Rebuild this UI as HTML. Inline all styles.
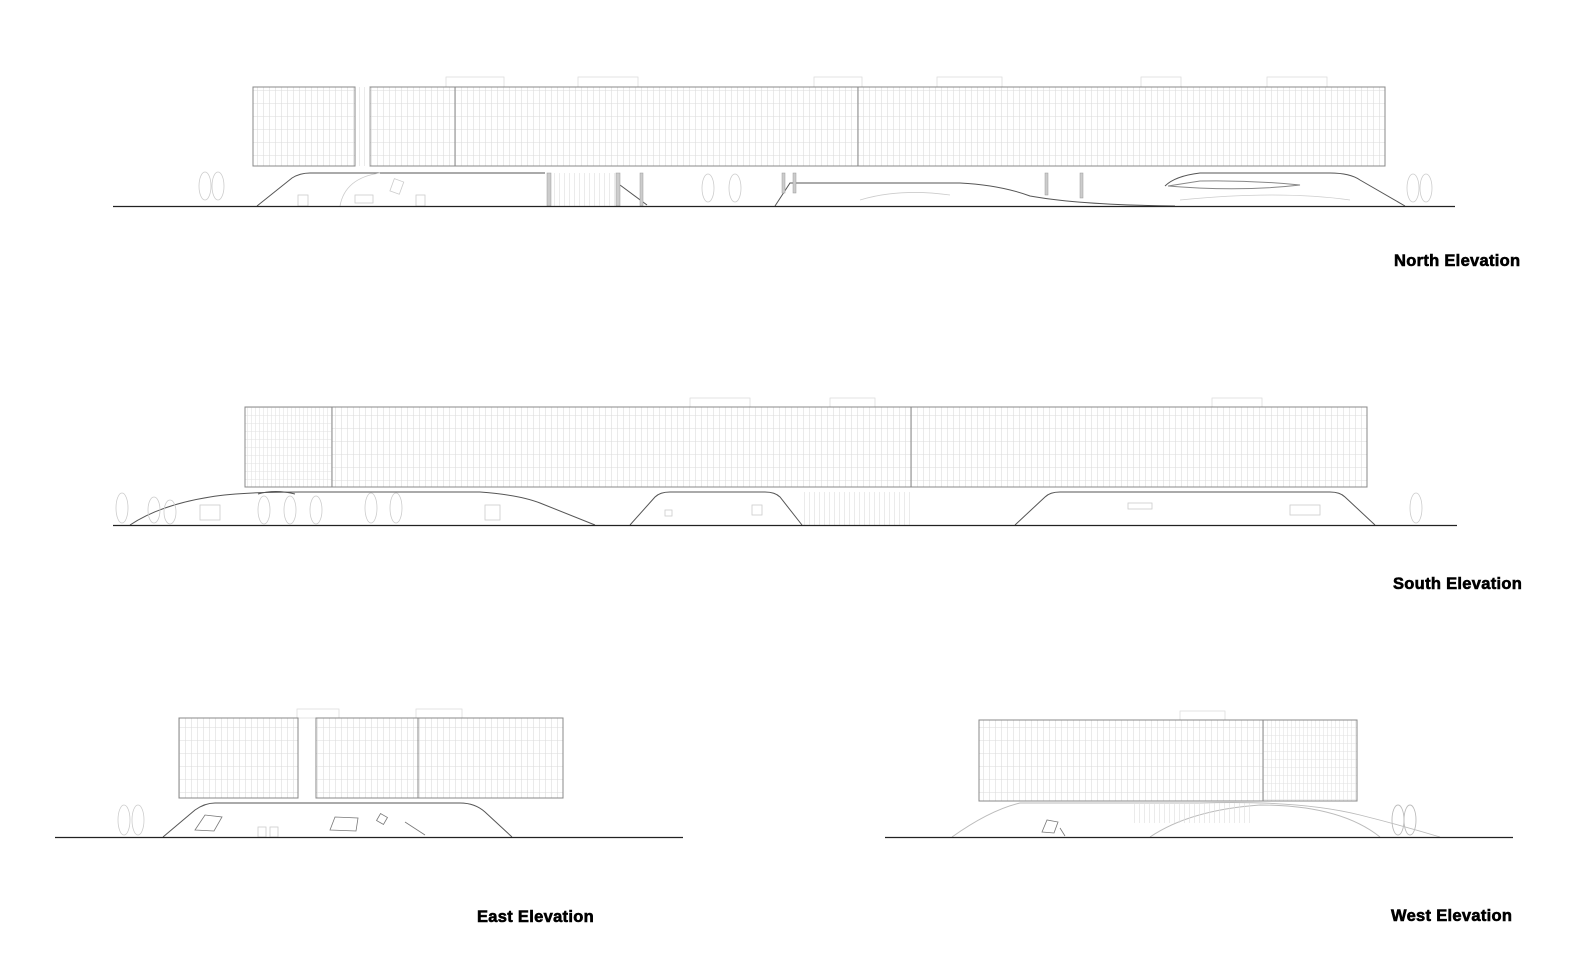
<!DOCTYPE html>
<html><head><meta charset="utf-8"><style>
html,body{margin:0;padding:0;background:#fff;}
svg{display:block}
text{font-family:"Liberation Sans",Arial,sans-serif;font-weight:bold;font-size:16.5px;fill:#000;stroke:#000;stroke-width:0.6px;letter-spacing:0.3px}
</style></head><body>
<svg width="1582" height="970" viewBox="0 0 1582 970" xmlns="http://www.w3.org/2000/svg">
<defs>
<pattern id="g" width="6" height="13" patternUnits="userSpaceOnUse">
<path d="M5.5 0V13M0 12.5H6" stroke="#dcdcdc" stroke-width="0.6" fill="none"/>
</pattern>
<pattern id="g2" width="4" height="8" patternUnits="userSpaceOnUse">
<path d="M3.5 0V8M0 7.5H4" stroke="#e2e2e2" stroke-width="0.6" fill="none"/>
</pattern>
<pattern id="v" width="5" height="40" patternUnits="userSpaceOnUse">
<path d="M4.5 0V40" stroke="#ddd" stroke-width="0.6"/>
</pattern>
</defs>
<g fill="none" stroke="#ddd" stroke-width="0.8">
<rect x="446" y="77" width="58" height="10"/><rect x="578" y="77" width="60" height="10"/><rect x="814" y="77" width="48" height="10"/><rect x="937" y="77" width="65" height="10"/><rect x="1141" y="77" width="40" height="10"/><rect x="1267" y="77" width="60" height="10"/>
<rect x="690" y="398" width="60" height="9"/><rect x="830" y="398" width="45" height="9"/><rect x="1212" y="398" width="50" height="9"/>
<rect x="297" y="709" width="42" height="9"/><rect x="416" y="709" width="46" height="9"/><rect x="1180" y="711" width="45" height="9"/>
</g>
<!-- NORTH -->
<g stroke="#888" stroke-width="1">
<rect x="253" y="87" width="102" height="79" fill="url(#g)"/>
<rect x="370" y="87" width="85" height="79" fill="url(#g)"/>
<rect x="455" y="87" width="403" height="79" fill="url(#g)"/>
<rect x="858" y="87" width="527" height="79" fill="url(#g)"/>
</g>
<rect x="355" y="87" width="15" height="79" fill="url(#v)"/>
<g fill="none" stroke="#555" stroke-width="1">
<path d="M257 206 L292 178 Q300 173 310 173 L545 173"/>
<path d="M775 206 L790 183 L800 183 L960 183 Q1000 185 1030 196 Q1080 205 1175 206"/>
<path d="M1165 186 Q1175 176 1200 173 L1330 173 Q1350 173 1360 180 L1405 206"/>
<path d="M1168 186 Q1240 192 1300 185 Q1250 180 1200 181 Z" stroke="#888"/>
<path d="M620 185 L647 205"/>
</g>
<g fill="#ccc" stroke="#999" stroke-width="0.5">
<rect x="547" y="173" width="4" height="33"/><rect x="616" y="173" width="4" height="33"/><rect x="640" y="173" width="3" height="33"/>
<rect x="782" y="173" width="3" height="20"/><rect x="793" y="173" width="3" height="20"/><rect x="1045" y="173" width="3" height="22"/><rect x="1080" y="173" width="3" height="25"/>
</g>
<rect x="551" y="173" width="65" height="33" fill="url(#v)"/>
<g fill="none" stroke="#ccc" stroke-width="0.8">
<ellipse cx="205" cy="186" rx="6" ry="14"/><ellipse cx="218" cy="186" rx="6" ry="14"/>
<ellipse cx="708" cy="188" rx="6" ry="14"/><ellipse cx="735" cy="188" rx="6" ry="14"/>
<ellipse cx="1413" cy="188" rx="6" ry="14"/><ellipse cx="1426" cy="188" rx="6" ry="14"/>
<path d="M340 206 Q345 178 380 173"/><rect x="355" y="195" width="18" height="8"/><rect x="392" y="180" width="10" height="13" transform="rotate(20 397 186)"/><rect x="298" y="195" width="10" height="11"/><rect x="416" y="195" width="9" height="11"/>
<path d="M860 200 Q900 188 950 195"/><path d="M1180 200 Q1280 190 1350 200"/>
</g>
<line x1="113" y1="206.5" x2="1455" y2="206.5" stroke="#222" stroke-width="1.2"/>
<!-- SOUTH -->
<g stroke="#888" stroke-width="1">
<rect x="245" y="407" width="87" height="80" fill="url(#g2)"/>
<rect x="332" y="407" width="579" height="80" fill="url(#g)"/>
<rect x="911" y="407" width="456" height="80" fill="url(#g)"/>
</g>
<g fill="none" stroke="#555" stroke-width="1">
<path d="M130 525 Q160 505 210 497 Q240 492 300 492 L480 492 Q520 495 540 503 L595 525"/>
<path d="M258 494 Q275 489 295 494"/>
<path d="M630 525 L655 497 Q660 492 670 492 L765 492 Q775 492 780 497 L802 525"/>
<path d="M1015 525 L1045 497 Q1050 492 1060 492 L1330 492 Q1340 492 1345 497 L1375 525"/>
</g>
<rect x="802" y="492" width="110" height="33" fill="url(#v)"/>
<g fill="none" stroke="#ccc" stroke-width="0.8">
<ellipse cx="122" cy="508" rx="6" ry="15"/><ellipse cx="154" cy="510" rx="6" ry="13"/><ellipse cx="170" cy="512" rx="6" ry="12"/>
<ellipse cx="264" cy="510" rx="6" ry="14"/><ellipse cx="290" cy="510" rx="6" ry="14"/><ellipse cx="316" cy="510" rx="6" ry="14"/>
<ellipse cx="371" cy="508" rx="6" ry="15"/><ellipse cx="396" cy="508" rx="6" ry="15"/><ellipse cx="1416" cy="508" rx="6" ry="15"/>
<rect x="200" y="505" width="20" height="15"/><rect x="485" y="505" width="15" height="15"/><rect x="752" y="505" width="10" height="10"/><rect x="1128" y="503" width="24" height="6"/><rect x="1290" y="505" width="30" height="10"/><rect x="665" y="510" width="7" height="6"/>
</g>
<line x1="113" y1="525.5" x2="1457" y2="525.5" stroke="#222" stroke-width="1.2"/>
<!-- EAST -->
<g stroke="#888" stroke-width="1">
<rect x="179" y="718" width="119" height="80" fill="url(#g)"/>
<rect x="316" y="718" width="102" height="80" fill="url(#g)"/>
<rect x="418" y="718" width="145" height="80" fill="url(#g)"/>
</g>
<path d="M163 837 L195 810 Q205 803 215 803 L460 803 Q475 803 485 812 L512 837" fill="none" stroke="#555"/>
<g fill="none" stroke="#777" stroke-width="0.8">
<path d="M195 830 L205 815 L222 817 L214 831 Z"/><path d="M330 830 L335 817 L358 818 L356 831 Z"/><rect x="378" y="815" width="8" height="8" transform="rotate(30 382 819)"/><path d="M405 822 L425 835"/>
</g>
<g fill="none" stroke="#ccc" stroke-width="0.8"><ellipse cx="124" cy="820" rx="6" ry="15"/><ellipse cx="138" cy="820" rx="6" ry="15"/><rect x="258" y="827" width="8" height="10"/><rect x="270" y="827" width="8" height="10"/></g>
<line x1="55" y1="837.5" x2="683" y2="837.5" stroke="#222" stroke-width="1.2"/>
<!-- WEST -->
<g stroke="#888" stroke-width="1">
<rect x="979" y="720" width="284" height="81" fill="url(#g)"/>
<rect x="1263" y="720" width="94" height="81" fill="url(#g2)"/>
</g>
<g fill="none" stroke="#bbb" stroke-width="0.9">
<path d="M952 837 Q990 810 1020 803 L1200 803 Q1300 800 1360 815 Q1400 825 1440 837"/>
<path d="M1150 837 Q1190 810 1260 805 Q1340 805 1380 837"/>
<ellipse cx="1398" cy="820" rx="6" ry="15"/><ellipse cx="1410" cy="820" rx="6" ry="15"/>
</g>
<rect x="1130" y="803" width="120" height="20" fill="url(#v)"/>
<path d="M1042 832 L1047 820 L1058 822 L1054 833 Z M1060 828 L1065 836" fill="none" stroke="#777" stroke-width="0.8"/>
<line x1="885" y1="837.5" x2="1513" y2="837.5" stroke="#222" stroke-width="1.2"/>
<!-- labels -->
<text x="1394" y="266">North Elevation</text>
<text x="1393" y="589">South Elevation</text>
<text x="477" y="922">East Elevation</text>
<text x="1391" y="921">West Elevation</text>
</svg>
</body></html>
